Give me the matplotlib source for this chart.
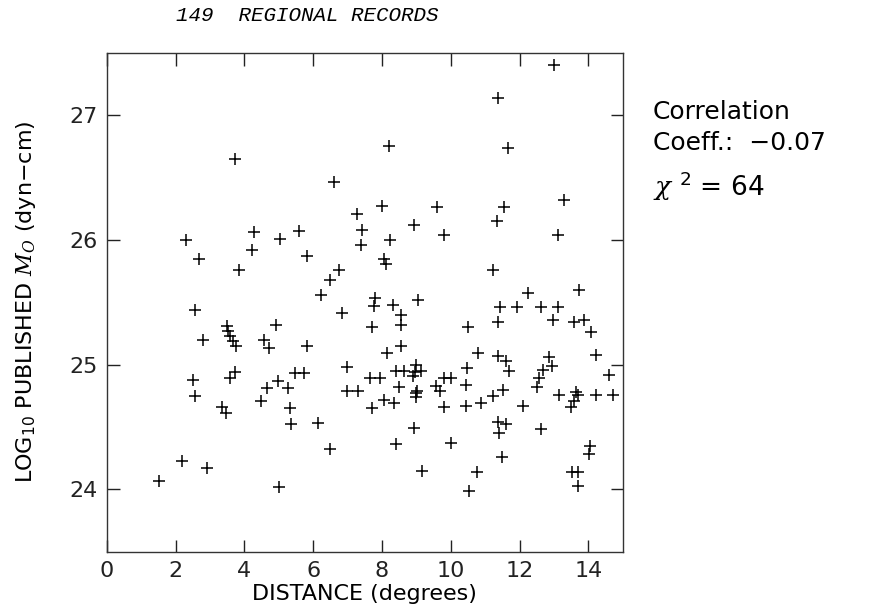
import matplotlib
matplotlib.use('Agg')
import matplotlib.pyplot as plt

# distance (degrees) and log10 published moment for each regional record
distance = [
    3.72, 2.31, 4.28, 5.03, 4.22, 2.67, 3.83, 2.55, 8.21, 6.61,
    7.99, 9.59, 7.27, 8.94, 9.81, 5.58, 7.41, 8.24, 7.39, 5.81,
    8.07, 8.12, 6.74, 6.50, 6.23, 7.81, 7.78, 8.31, 9.06, 6.83,
    8.55, 8.55, 13.01, 11.36, 11.67, 13.28, 11.54, 11.33, 13.13, 11.22,
    12.25, 13.74, 11.44, 11.92, 12.62, 13.12, 3.49, 4.93, 3.57, 2.78,
    3.67, 3.74, 4.56, 4.70, 2.51, 3.72, 3.59, 4.98, 4.66, 2.55,
    4.47, 3.36, 3.47, 2.19, 2.92, 1.52, 5.01, 5.81, 5.48, 5.74,
    5.26, 5.31, 5.35, 6.13, 6.50, 7.70, 8.55, 8.15, 6.97, 8.41,
    8.63, 9.00, 8.97, 9.13, 8.90, 9.81, 7.65, 7.95, 6.98, 7.29,
    8.48, 9.02, 8.99, 9.57, 9.69, 8.05, 8.36, 7.70, 9.79, 8.92,
    8.42, 9.15, 10.00, 11.36, 10.51, 12.96, 13.59, 13.88, 14.09, 10.80,
    11.36, 11.60, 11.70, 12.86, 12.93, 12.67, 14.22, 14.61, 10.47, 10.02,
    10.44, 12.57, 12.52, 11.51, 11.24, 13.15, 13.64, 13.69, 14.22, 14.73,
    13.59, 13.51, 10.44, 10.88, 12.11, 11.38, 11.60, 11.41, 12.62, 14.06,
    14.03, 11.49, 10.76, 13.54, 13.71, 13.71, 10.54, 9.00, 3.53,
]
log_m0 = [
    26.65, 26.00, 26.06, 26.01, 25.92, 25.85, 25.76, 25.44, 26.75, 26.46,
    26.27, 26.26, 26.21, 26.12, 26.04, 26.07, 26.08, 26.00, 25.96, 25.87,
    25.85, 25.81, 25.76, 25.68, 25.56, 25.53, 25.47, 25.48, 25.52, 25.41,
    25.40, 25.32, 27.40, 27.14, 26.74, 26.32, 26.26, 26.15, 26.04, 25.76,
    25.57, 25.60, 25.46, 25.46, 25.46, 25.46, 25.31, 25.32, 25.23, 25.20,
    25.19, 25.15, 25.20, 25.13, 24.88, 24.94, 24.89, 24.87, 24.81, 24.75,
    24.71, 24.66, 24.61, 24.23, 24.17, 24.07, 24.02, 25.15, 24.93, 24.93,
    24.81, 24.65, 24.52, 24.53, 24.32, 25.30, 25.15, 25.09, 24.98, 24.95,
    24.95, 25.00, 24.94, 24.95, 24.91, 24.89, 24.89, 24.89, 24.79, 24.79,
    24.82, 24.79, 24.74, 24.83, 24.79, 24.72, 24.69, 24.65, 24.66, 24.49,
    24.36, 24.15, 24.37, 25.34, 25.30, 25.36, 25.34, 25.36, 25.26, 25.09,
    25.07, 25.03, 24.95, 25.06, 24.99, 24.96, 25.08, 24.92, 24.97, 24.89,
    24.84, 24.89, 24.82, 24.80, 24.75, 24.76, 24.78, 24.76, 24.76, 24.76,
    24.71, 24.66, 24.67, 24.69, 24.67, 24.54, 24.52, 24.45, 24.48, 24.35,
    24.28, 24.26, 24.14, 24.14, 24.14, 24.03, 23.99, 24.77, 25.27,
]

x_ticks = [0, 2, 4, 6, 8, 10, 12, 14]
y_ticks = [24, 25, 26, 27]

plt.rcParams['mathtext.fontset'] = 'custom'
plt.rcParams['mathtext.rm'] = 'DejaVu Sans'
plt.rcParams['mathtext.it'] = 'DejaVu Serif:italic'

fig = plt.figure(figsize=(8.79, 6.12), dpi=100)
ax = fig.add_axes([0.1217, 0.0985, 0.5867, 0.8154])

ax.plot(distance, log_m0, linestyle='none', marker='+', color='black',
        markersize=8, markeredgewidth=1.1)

ax.set_xlim(0, 15)
ax.set_ylim(23.5, 27.5)
ax.set_xticks(x_ticks)
ax.set_yticks(y_ticks)
ax.tick_params(direction='in', length=9, width=1, top=True, right=True,
               labelsize=16, pad=7, colors='#222222')
for s in ax.spines.values():
    s.set_linewidth(1)
    s.set_color('#333333')

ax.set_xlabel('DISTANCE (degrees)', fontsize=16, labelpad=2)
ax.set_ylabel(r'LOG$_{\mathrm{10}}$ PUBLISHED $M_{O}$ (dyn−cm)', fontsize=16,
              labelpad=22)

fig.text(0.35, 0.974, '149  REGIONAL RECORDS', ha='center', va='center',
         fontsize=15, family='Liberation Mono', style='italic')

fig.text(0.743, 0.817, 'Correlation', fontsize=18, va='center')
fig.text(0.743, 0.766, 'Coeff.:  −0.07', fontsize=18, va='center')
fig.text(0.743, 0.695, r'$\chi$ $^{2}$ = 64', fontsize=19, va='center')

fig.savefig('out.png', dpi=100)
